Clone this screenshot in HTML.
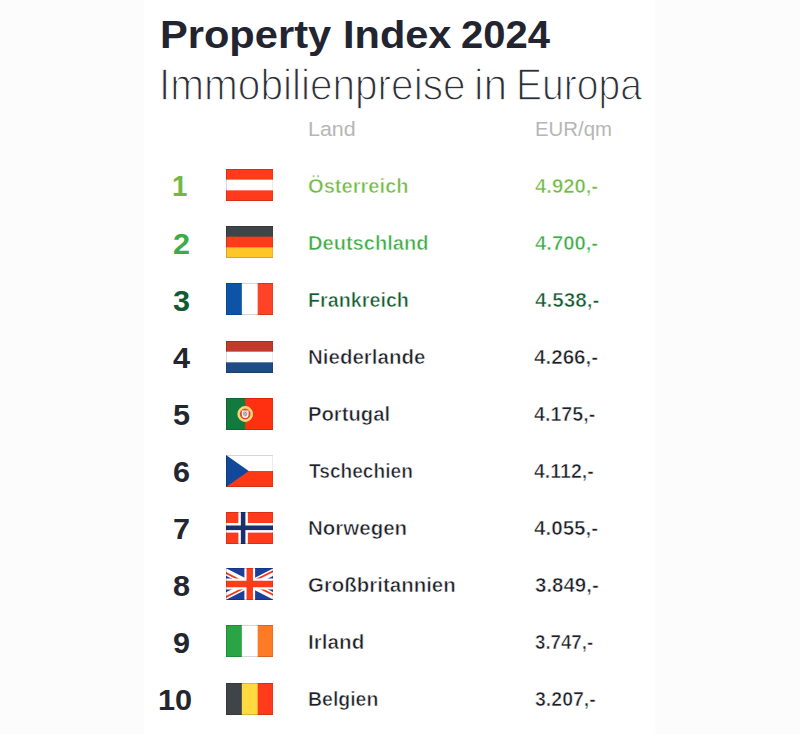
<!DOCTYPE html>
<html lang="de">
<head>
<meta charset="utf-8">
<title>Property Index 2024</title>
<style>
*{margin:0;padding:0;box-sizing:border-box}
html,body{width:800px;height:734px;overflow:hidden;background:#fcfcfc}
body{position:relative;font-family:"Liberation Sans",sans-serif;color:#23262f}
.panel{position:absolute;left:144px;top:0;width:511.4px;height:734px;background:#fff}
.t{position:absolute;white-space:nowrap;line-height:1;transform-origin:0 50%}
.title{font-size:39.4px;font-weight:700;color:#22252f}
.sub{font-size:43.7px;-webkit-text-stroke:1.3px #fff;font-weight:400;color:#2c2f36}
.hd{font-size:19.7px;color:#b6b6b6}
.num{font-size:28.6px;font-weight:700}
.name,.val{font-size:20.2px;font-weight:700;-webkit-text-stroke:.55px #fff}
.flag{position:absolute;left:225.8px;width:47.5px;height:32px}
.name,.val{color:#1c1f28}.g1,.name.g1,.val.g1{color:#70ba43}.g2,.name.g2,.val.g2{color:#3eab46}.g3,.name.g3,.val.g3{color:#125a30}
</style>
</head>
<body>
<div class="panel"></div>
<!--gen-->
<div class="t title" id="t1" style="left:160.36px;top:14.71px;transform:scaleX(1.0565)">Property</div>
<div class="t title" id="t2" style="left:342.62px;top:14.71px;transform:scaleX(1.0535)">Index</div>
<div class="t title" id="t3" style="left:461.23px;top:14.71px;transform:scaleX(1.0145)">2024</div>
<div class="t sub" id="s1" style="left:158.93px;top:62.95px;transform:scaleX(0.9282)">Immobilienpreise</div>
<div class="t sub" id="s2" style="left:474.10px;top:62.95px;transform:scaleX(0.9722)">in</div>
<div class="t sub" id="s3" style="left:516.20px;top:62.95px;transform:scaleX(0.8934)">Europa</div>
<div class="t hd" id="land" style="left:307.80px;top:120.45px;transform:scaleX(1.0896)">Land</div>
<div class="t hd" id="eur" style="left:535.19px;top:120.45px;transform:scaleX(1.0358)">EUR/qm</div>
<div class="t num g1" id="n1" style="left:171.92px;top:172.49px;transform:scaleX(0.9700)">1</div>
<div class="t name g1" id="m1" style="left:308.10px;top:175.58px;transform:scaleX(0.9964)">Österreich</div>
<div class="t val g1" id="v1" style="left:534.94px;top:175.58px;transform:scaleX(1.0041)">4.920,-</div>
<div class="t num g2" id="n2" style="left:173.04px;top:229.58px;transform:scaleX(1.0700)">2</div>
<div class="t name g2" id="m2" style="left:307.61px;top:232.61px;transform:scaleX(0.9945)">Deutschland</div>
<div class="t val g2" id="v2" style="left:534.94px;top:232.61px;transform:scaleX(1.0041)">4.700,-</div>
<div class="t num g3" id="n3" style="left:173.22px;top:286.67px;transform:scaleX(1.0700)">3</div>
<div class="t name g3" id="m3" style="left:308.17px;top:289.64px;transform:scaleX(0.9776)">Frankreich</div>
<div class="t val g3" id="v3" style="left:534.93px;top:289.64px;transform:scaleX(1.0237)">4.538,-</div>
<div class="t num" id="n4" style="left:172.62px;top:343.76px;transform:scaleX(1.0700)">4</div>
<div class="t name" id="m4" style="left:307.57px;top:346.67px;transform:scaleX(1.0159)">Niederlande</div>
<div class="t val" id="v4" style="left:534.43px;top:346.67px;transform:scaleX(1.0204)">4.266,-</div>
<div class="t num" id="n5" style="left:172.94px;top:400.85px;transform:scaleX(1.0700)">5</div>
<div class="t name" id="m5" style="left:307.59px;top:403.70px;transform:scaleX(1.0025)">Portugal</div>
<div class="t val" id="v5" style="left:534.46px;top:403.70px;transform:scaleX(0.9747)">4.175,-</div>
<div class="t num" id="n6" style="left:173.09px;top:457.94px;transform:scaleX(1.0700)">6</div>
<div class="t name" id="m6" style="left:308.87px;top:460.73px;transform:scaleX(0.9476)">Tschechien</div>
<div class="t val" id="v6" style="left:534.47px;top:460.73px;transform:scaleX(0.9667)">4.112,-</div>
<div class="t num" id="n7" style="left:173.29px;top:515.03px;transform:scaleX(1.0700)">7</div>
<div class="t name" id="m7" style="left:307.92px;top:517.76px;transform:scaleX(1.0159)">Norwegen</div>
<div class="t val" id="v7" style="left:534.43px;top:517.76px;transform:scaleX(1.0204)">4.055,-</div>
<div class="t num" id="n8" style="left:172.91px;top:572.12px;transform:scaleX(1.0700)">8</div>
<div class="t name" id="m8" style="left:307.78px;top:574.79px;transform:scaleX(1.0129)">Großbritannien</div>
<div class="t val" id="v8" style="left:534.88px;top:574.79px;transform:scaleX(1.0148)">3.849,-</div>
<div class="t num" id="n9" style="left:172.99px;top:629.21px;transform:scaleX(1.0700)">9</div>
<div class="t name" id="m9" style="left:307.90px;top:631.82px;transform:scaleX(1.0242)">Irland</div>
<div class="t val" id="v9" style="left:535.15px;top:631.82px;transform:scaleX(0.9257)">3.747,-</div>
<div class="t num" id="n10" style="left:157.97px;top:686.30px;transform:scaleX(1.0724)">10</div>
<div class="t name" id="m10" style="left:308.00px;top:688.85px;transform:scaleX(0.9649)">Belgien</div>
<div class="t val" id="v10" style="left:535.07px;top:688.85px;transform:scaleX(0.9672)">3.207,-</div>
<svg class="flag" style="top:169.1px" viewBox="0 0 48 32" preserveAspectRatio="none"><clipPath id="c0"><rect width="48" height="32"/></clipPath><g clip-path="url(#c0)"><rect width='48' height='32' fill='#ff3b1c'/><rect y='10.67' width='48' height='10.67' fill='#fff'/></g><rect x=".5" y=".5" width="47" height="31" fill="none" stroke="#000" stroke-opacity=".16"/></svg>
<svg class="flag" style="top:226.2px" viewBox="0 0 48 32" preserveAspectRatio="none"><clipPath id="c1"><rect width="48" height="32"/></clipPath><g clip-path="url(#c1)"><rect width='48' height='32' fill='#ff3b1c'/><rect width='48' height='10.67' fill='#3f4449'/><rect y='21.33' width='48' height='10.67' fill='#ffc627'/></g><rect x=".5" y=".5" width="47" height="31" fill="none" stroke="#000" stroke-opacity=".16"/></svg>
<svg class="flag" style="top:283.3px" viewBox="0 0 48 32" preserveAspectRatio="none"><clipPath id="c2"><rect width="48" height="32"/></clipPath><g clip-path="url(#c2)"><rect width='48' height='32' fill='#fff'/><rect width='16' height='32' fill='#0d54a8'/><rect x='32' width='16' height='32' fill='#ff4326'/></g><rect x=".5" y=".5" width="47" height="31" fill="none" stroke="#000" stroke-opacity=".16"/></svg>
<svg class="flag" style="top:340.6px" viewBox="0 0 48 32" preserveAspectRatio="none"><clipPath id="c3"><rect width="48" height="32"/></clipPath><g clip-path="url(#c3)"><rect width='48' height='32' fill='#fff'/><rect width='48' height='10.67' fill='#c13a2b'/><rect y='21.33' width='48' height='10.67' fill='#1f4c85'/></g><rect x=".5" y=".5" width="47" height="31" fill="none" stroke="#000" stroke-opacity=".16"/></svg>
<svg class="flag" style="top:397.5px" viewBox="0 0 48 32" preserveAspectRatio="none"><clipPath id="c4"><rect width="48" height="32"/></clipPath><g clip-path="url(#c4)"><rect width='48' height='32' fill='#ff3010'/><rect width='19.4' height='32' fill='#127a3c'/><circle cx='19.4' cy='16' r='6.7' fill='#e8452a' stroke='#f1d97a' stroke-width='2.5'/><path d='M16 12.6h6.8v4a3.4 3.4 0 0 1-6.8 0z' fill='#fff'/><path d='M17.6 13.8h3.6v2.6a1.8 1.8 0 0 1-3.6 0z' fill='#fff' stroke='#e8452a' stroke-width='.5'/><circle cx='19.4' cy='14.7' r='.6' fill='#2a4f9e'/><circle cx='18.4' cy='15.9' r='.6' fill='#2a4f9e'/><circle cx='20.4' cy='15.9' r='.6' fill='#2a4f9e'/><circle cx='19.4' cy='17.1' r='.6' fill='#2a4f9e'/></g><rect x=".5" y=".5" width="47" height="31" fill="none" stroke="#000" stroke-opacity=".16"/></svg>
<svg class="flag" style="top:455.0px" viewBox="0 0 48 32" preserveAspectRatio="none"><clipPath id="c5"><rect width="48" height="32"/></clipPath><g clip-path="url(#c5)"><rect width='48' height='32' fill='#fff'/><rect y='16' width='48' height='16' fill='#ff3816'/><path d='M0 0L23 16L0 32Z' fill='#12489a'/></g><rect x=".5" y=".5" width="47" height="31" fill="none" stroke="#000" stroke-opacity=".16"/></svg>
<svg class="flag" style="top:511.7px" viewBox="0 0 48 32" preserveAspectRatio="none"><clipPath id="c6"><rect width="48" height="32"/></clipPath><g clip-path="url(#c6)"><rect width='48' height='32' fill='#ff3b1c'/><rect x='12.5' width='9.6' height='32' fill='#fff'/><rect y='11' width='48' height='9.6' fill='#fff'/><rect x='15' width='4.6' height='32' fill='#1b2f6c'/><rect y='13.5' width='48' height='4.6' fill='#1b2f6c'/></g><rect x=".5" y=".5" width="47" height="31" fill="none" stroke="#000" stroke-opacity=".16"/></svg>
<svg class="flag" style="top:568.2px" viewBox="0 0 48 32" preserveAspectRatio="none"><clipPath id="c7"><rect width="48" height="32"/></clipPath><g clip-path="url(#c7)"><rect width='48' height='32' fill='#1c3f9c'/><g transform='translate(-8 0)'><path d='M0 0L64 32M64 0L0 32' stroke='#fff' stroke-width='6.6'/><clipPath id='uj'><path d='M32 16h32v16zv16h-32zh-32v-16zv-16h32z'/></clipPath><path d='M0 0L64 32M64 0L0 32' stroke='#f0381c' stroke-width='3.6' clip-path='url(#uj)'/><path d='M32 0V32M0 16H64' stroke='#fff' stroke-width='10.8'/><path d='M32 0V32M0 16H64' stroke='#ff3b1c' stroke-width='6.5'/></g></g><rect x=".5" y=".5" width="47" height="31" fill="none" stroke="#000" stroke-opacity=".16"/></svg>
<svg class="flag" style="top:625.0px" viewBox="0 0 48 32" preserveAspectRatio="none"><clipPath id="c8"><rect width="48" height="32"/></clipPath><g clip-path="url(#c8)"><rect width='48' height='32' fill='#fff'/><rect width='16' height='32' fill='#2aa545'/><rect x='32' width='16' height='32' fill='#ff7a24'/></g><rect x=".5" y=".5" width="47" height="31" fill="none" stroke="#000" stroke-opacity=".16"/></svg>
<svg class="flag" style="top:683.4px" viewBox="0 0 48 32" preserveAspectRatio="none"><clipPath id="c9"><rect width="48" height="32"/></clipPath><g clip-path="url(#c9)"><rect width='48' height='32' fill='#ffd940'/><rect width='16' height='32' fill='#3f4449'/><rect x='32' width='16' height='32' fill='#ff3b1c'/></g><rect x=".5" y=".5" width="47" height="31" fill="none" stroke="#000" stroke-opacity=".16"/></svg>
<!--/gen-->
</body>
</html>
